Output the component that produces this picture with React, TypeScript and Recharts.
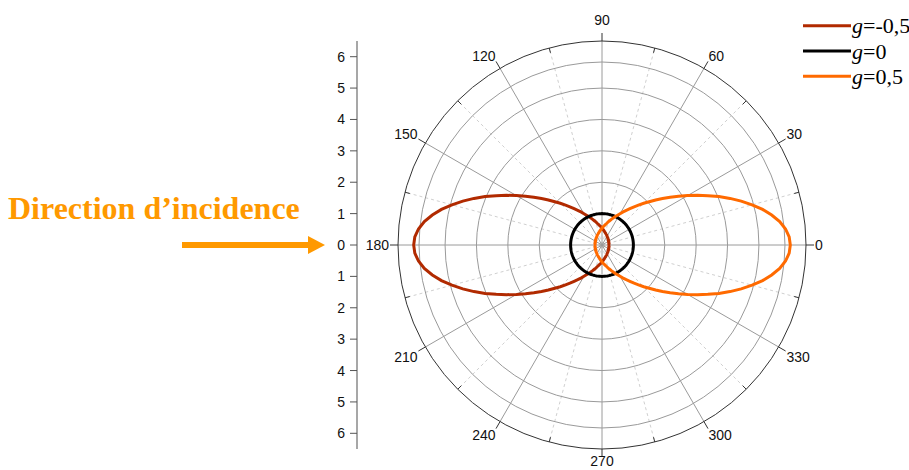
import React from 'react';
import { RadarChart, Radar, PolarGrid, PolarAngleAxis, PolarRadiusAxis, Legend, LineChart, XAxis, YAxis } from 'recharts';

// scattering angle (deg), one point every 2.5 degrees (12 per row = 30 deg)
const angles = [
  0, 2.5, 5, 7.5, 10, 12.5, 15, 17.5, 20, 22.5, 25, 27.5,
  30, 32.5, 35, 37.5, 40, 42.5, 45, 47.5, 50, 52.5, 55, 57.5,
  60, 62.5, 65, 67.5, 70, 72.5, 75, 77.5, 80, 82.5, 85, 87.5,
  90, 92.5, 95, 97.5, 100, 102.5, 105, 107.5, 110, 112.5, 115, 117.5,
  120, 122.5, 125, 127.5, 130, 132.5, 135, 137.5, 140, 142.5, 145, 147.5,
  150, 152.5, 155, 157.5, 160, 162.5, 165, 167.5, 170, 172.5, 175, 177.5,
  180, 182.5, 185, 187.5, 190, 192.5, 195, 197.5, 200, 202.5, 205, 207.5,
  210, 212.5, 215, 217.5, 220, 222.5, 225, 227.5, 230, 232.5, 235, 237.5,
  240, 242.5, 245, 247.5, 250, 252.5, 255, 257.5, 260, 262.5, 265, 267.5,
  270, 272.5, 275, 277.5, 280, 282.5, 285, 287.5, 290, 292.5, 295, 297.5,
  300, 302.5, 305, 307.5, 310, 312.5, 315, 317.5, 320, 322.5, 325, 327.5,
  330, 332.5, 335, 337.5, 340, 342.5, 345, 347.5, 350, 352.5, 355, 357.5,
];

// g = -0,5 (back scattering)
const gMinus05 = [
  0.22, 0.22, 0.22, 0.22, 0.22, 0.23, 0.23, 0.23, 0.23, 0.23, 0.24, 0.24,
  0.24, 0.25, 0.25, 0.26, 0.26, 0.27, 0.27, 0.28, 0.29, 0.30, 0.30, 0.31,
  0.32, 0.34, 0.35, 0.36, 0.37, 0.39, 0.40, 0.42, 0.44, 0.46, 0.49, 0.51,
  0.54, 0.57, 0.60, 0.63, 0.67, 0.71, 0.76, 0.81, 0.87, 0.93, 1.00, 1.07,
  1.15, 1.25, 1.35, 1.46, 1.59, 1.72, 1.88, 2.04, 2.23, 2.43, 2.65, 2.89,
  3.15, 3.43, 3.72, 4.03, 4.34, 4.65, 4.95, 5.24, 5.49, 5.71, 5.87, 5.97,
  6.00, 5.97, 5.87, 5.71, 5.49, 5.24, 4.95, 4.65, 4.34, 4.03, 3.72, 3.43,
  3.15, 2.89, 2.65, 2.43, 2.23, 2.04, 1.88, 1.72, 1.59, 1.46, 1.35, 1.25,
  1.15, 1.07, 1.00, 0.93, 0.87, 0.81, 0.76, 0.71, 0.67, 0.63, 0.60, 0.57,
  0.54, 0.51, 0.49, 0.46, 0.44, 0.42, 0.40, 0.39, 0.37, 0.36, 0.35, 0.34,
  0.32, 0.31, 0.30, 0.30, 0.29, 0.28, 0.27, 0.27, 0.26, 0.26, 0.25, 0.25,
  0.24, 0.24, 0.24, 0.23, 0.23, 0.23, 0.23, 0.23, 0.22, 0.22, 0.22, 0.22,
];

// g = 0 (isotropic)
const gZero = [
  1, 1, 1, 1, 1, 1, 1, 1, 1, 1, 1, 1,
  1, 1, 1, 1, 1, 1, 1, 1, 1, 1, 1, 1,
  1, 1, 1, 1, 1, 1, 1, 1, 1, 1, 1, 1,
  1, 1, 1, 1, 1, 1, 1, 1, 1, 1, 1, 1,
  1, 1, 1, 1, 1, 1, 1, 1, 1, 1, 1, 1,
  1, 1, 1, 1, 1, 1, 1, 1, 1, 1, 1, 1,
  1, 1, 1, 1, 1, 1, 1, 1, 1, 1, 1, 1,
  1, 1, 1, 1, 1, 1, 1, 1, 1, 1, 1, 1,
  1, 1, 1, 1, 1, 1, 1, 1, 1, 1, 1, 1,
  1, 1, 1, 1, 1, 1, 1, 1, 1, 1, 1, 1,
  1, 1, 1, 1, 1, 1, 1, 1, 1, 1, 1, 1,
  1, 1, 1, 1, 1, 1, 1, 1, 1, 1, 1, 1,
];

// g = 0,5 (forward scattering)
const gPlus05 = [
  6.00, 5.97, 5.87, 5.71, 5.49, 5.24, 4.95, 4.65, 4.34, 4.03, 3.72, 3.43,
  3.15, 2.89, 2.65, 2.43, 2.23, 2.04, 1.88, 1.72, 1.59, 1.46, 1.35, 1.25,
  1.15, 1.07, 1.00, 0.93, 0.87, 0.81, 0.76, 0.71, 0.67, 0.63, 0.60, 0.57,
  0.54, 0.51, 0.49, 0.46, 0.44, 0.42, 0.40, 0.39, 0.37, 0.36, 0.35, 0.34,
  0.32, 0.31, 0.30, 0.30, 0.29, 0.28, 0.27, 0.27, 0.26, 0.26, 0.25, 0.25,
  0.24, 0.24, 0.24, 0.23, 0.23, 0.23, 0.23, 0.23, 0.22, 0.22, 0.22, 0.22,
  0.22, 0.22, 0.22, 0.22, 0.22, 0.23, 0.23, 0.23, 0.23, 0.23, 0.24, 0.24,
  0.24, 0.25, 0.25, 0.26, 0.26, 0.27, 0.27, 0.28, 0.29, 0.30, 0.30, 0.31,
  0.32, 0.34, 0.35, 0.36, 0.37, 0.39, 0.40, 0.42, 0.44, 0.46, 0.49, 0.51,
  0.54, 0.57, 0.60, 0.63, 0.67, 0.71, 0.76, 0.81, 0.87, 0.93, 1.00, 1.07,
  1.15, 1.25, 1.35, 1.46, 1.59, 1.72, 1.88, 2.04, 2.23, 2.43, 2.65, 2.89,
  3.15, 3.43, 3.72, 4.03, 4.34, 4.65, 4.95, 5.24, 5.49, 5.71, 5.87, 5.97,
];

const radialTicks = [-6, -5, -4, -3, -2, -1, 0, 1, 2, 3, 4, 5, 6];
const ringValues = [1, 2, 3, 4, 5, 5.83];
const majorAngles = [0, 30, 60, 90, 120, 150, 180, 210, 240, 270, 300, 330];
const minorAngles = [15, 45, 75, 105, 135, 165, 195, 225, 255, 285, 315, 345];

const series = [
  { key: 'gMinus05', label: '=-0,5', color: '#B12A00' },
  { key: 'gZero', label: '=0', color: '#000000' },
  { key: 'gPlus05', label: '=0,5', color: '#FF6A00' },
];

const data = angles.map((a, i) => ({
  angle: a,
  gMinus05: gMinus05[i],
  gZero: gZero[i],
  gPlus05: gPlus05[i],
}));

const CX = 602;
const CY = 245;
const OUTER = 204; // drawn frame circle = 6.5
const RMAX = 6.5;
const SCALE_MAX = 7; // radius axis domain end (a "nice" value so recharts keeps it)
const SCALE_R = (OUTER * SCALE_MAX) / RMAX;
const STEP = 2.5; // band width of the angle axis, recharts adds it to each point
const SANS = '"Liberation Sans", Arial, sans-serif';
const SERIF = '"Liberation Serif", "Times New Roman", serif';

const toPx = (v: number) => (v * OUTER) / RMAX;

const AngleTick = (props: any) => {
  const a = Number(props.payload?.value);
  if (a % 15 !== 0) return <g />;
  const rad = (a * Math.PI) / 180;
  const c = Math.cos(rad);
  const s = Math.sin(rad);
  const pt = (r: number) => [CX + r * c, CY - r * s];
  const major = a % 30 === 0;
  const [x1, y1] = pt(major ? OUTER : OUTER - 5);
  const [x2, y2] = pt(major ? OUTER + 8 : OUTER);
  if (!major) {
    return <line x1={x1} y1={y1} x2={x2} y2={y2} stroke="#333" strokeWidth={1} />;
  }
  const anchor = c > 0.1 ? 'start' : c < -0.1 ? 'end' : 'middle';
  const base = s > 0.1 ? 'auto' : s < -0.1 ? 'hanging' : 'central';
  const lr = a === 90 ? 220 : a === 270 ? 211 : 213;
  const [lx, ly] = pt(lr);
  return (
    <g>
      <line x1={x1} y1={y1} x2={x2} y2={y2} stroke="#333" strokeWidth={1} />
      <text x={lx} y={ly} textAnchor={anchor} dominantBaseline={base} fontSize={14} fontFamily={SANS} fill="#111">
        {a}
      </text>
    </g>
  );
};

const LegendBox = () => (
  <svg width={109} height={90}>
    {series.map((s, i) => {
      const y = 25.7 + i * 25.3;
      return (
        <g key={s.key}>
          <line x1={3} x2={51} y1={y} y2={y} stroke={s.color} strokeWidth={3} />
          <text x={52} y={y + 7.5} fontSize={22} fontFamily={SERIF} fill="#000">
            <tspan fontStyle="italic">g</tspan>
            {s.label}
          </text>
        </g>
      );
    })}
  </svg>
);

const layer: React.CSSProperties = { position: 'absolute', left: 0, top: 0 };

export default function App() {
  return (
    <div style={{ position: 'absolute', left: 0, top: 0, width: 909, height: 470, background: '#fff' }}>
      {/* polar frame: rings, radial lines, angle labels */}
      <div style={layer}>
        <RadarChart width={909} height={470} data={data} cx={CX} cy={CY} outerRadius={OUTER}
          startAngle={0} endAngle={360} margin={{ top: 0, right: 0, bottom: 0, left: 0 }}>
          <PolarGrid gridType="circle" polarAngles={minorAngles} polarRadius={[]} stroke="#d0d0d0" strokeDasharray="3 3" />
          <PolarGrid gridType="circle" polarAngles={majorAngles} polarRadius={ringValues.map(toPx)} stroke="#9a9a9a" />
          <PolarGrid gridType="circle" polarAngles={[]} polarRadius={[OUTER]} stroke="#333" />
          <PolarAngleAxis dataKey="angle" axisLine={false} tickLine={false} tick={<AngleTick />} />
        </RadarChart>
      </div>
      {/* curves */}
      <div style={layer}>
        <RadarChart
          width={909}
          height={470}
          data={data}
          cx={CX}
          cy={CY}
          outerRadius={SCALE_R}
          startAngle={-STEP}
          endAngle={360 - STEP}
          margin={{ top: 0, right: 0, bottom: 0, left: 0 }}
        >
          <PolarAngleAxis dataKey="angle" axisLine={false} tickLine={false} tick={false} />
          <PolarRadiusAxis
            type="number"
            domain={[0, SCALE_MAX]}
            tickCount={8}
            tick={false}
            axisLine={false}
            allowDataOverflow
          />
          {series.map((s) => (
            <Radar
              key={s.key}
              dataKey={s.key}
              stroke={s.color}
              strokeWidth={3}
              fill="none"
              fillOpacity={0}
              dot={false}
              isAnimationActive={false}
            />
          ))}
          <Legend content={<LegendBox />} wrapperStyle={{ left: 800, top: 0, width: 109 }} />
        </RadarChart>
      </div>
      {/* radial scale on the left */}
      <div style={layer}>
        <LineChart width={360} height={470} data={data} margin={{ top: 41, right: 0, bottom: 21, left: 0 }}>
          <XAxis dataKey="angle" hide />
          <YAxis
            type="number"
            domain={[-RMAX, RMAX]}
            ticks={radialTicks}
            allowDataOverflow
            width={357}
            tickFormatter={(v: number) => String(Math.abs(v))}
            axisLine={{ stroke: '#8a8a8a', strokeWidth: 1.5 }}
            tickLine={{ stroke: '#555' }}
            tickSize={7}
            tickMargin={5}
            tick={{ fontSize: 14, fill: '#111', fontFamily: SANS }}
          />
        </LineChart>
      </div>
      <svg width={340} height={270} style={layer}>
        <text x={8} y={219} fontSize={32} fontWeight="bold" fontFamily={SERIF} fill="#FF9900">
          Direction d’incidence
        </text>
        <line x1={182} y1={245} x2={310} y2={245} stroke="#FF9900" strokeWidth={6} />
        <polygon points="308,236 325,245 308,254" fill="#FF9900" />
      </svg>
    </div>
  );
}
